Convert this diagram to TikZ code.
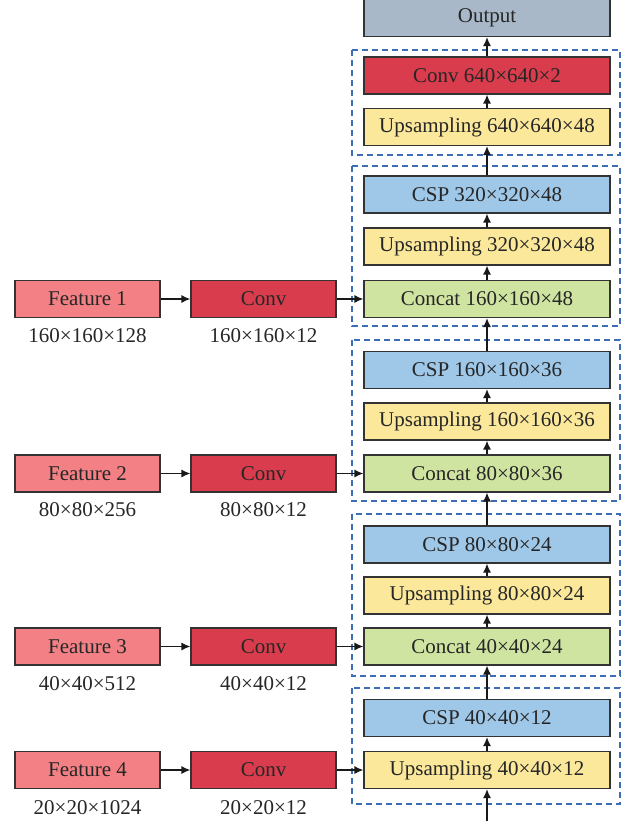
\documentclass[tikz,border=0pt]{standalone}
\usepackage{fontspec}
\setmainfont{Liberation Serif}
\usetikzlibrary{arrows.meta}
\definecolor{cout}{HTML}{A8B8C8}
\definecolor{cconv}{HTML}{D93D4D}
\definecolor{cups}{HTML}{FBE89B}
\definecolor{ccsp}{HTML}{9FC7E8}
\definecolor{ccat}{HTML}{D0E4A2}
\definecolor{cfeat}{HTML}{F28084}
\definecolor{cdash}{HTML}{3D6DB5}
\definecolor{cedge}{HTML}{333333}
\begin{document}
\begin{tikzpicture}[x=1pt,y=-1pt,
  fnt/.style={font=\fontsize{21}{24}\selectfont, text=black!85},
  blk/.style={fnt, draw=cedge, line width=1.2pt, minimum width=246pt, minimum height=37pt, inner sep=0pt},
  sblk/.style={blk, minimum width=145pt},
  lbl/.style={fnt, inner sep=0pt},
  arr/.style={-{Latex[length=9pt,width=8pt]}, line width=1.3pt, black!90},
  grp/.style={draw=cdash, line width=1.3pt, dash pattern=on 6pt off 4pt}
]
\useasboundingbox (0,0) rectangle (633,821);
% groups
\draw[grp] (352,50) rectangle (620,155);
\draw[grp] (352,166) rectangle (620,326);
\draw[grp] (352,340) rectangle (620,501);
\draw[grp] (352,514) rectangle (620,676);
\draw[grp] (352,688) rectangle (620,804);
% right column
\node[blk, fill=cout] (out) at (487,18) {Output};
\node[blk, fill=cconv] (c640) at (487,75.5) {Conv 640×640×2};
\node[blk, fill=cups] (u640) at (487,127) {Upsampling 640×640×48};
\node[blk, fill=ccsp] (s320) at (487,194.5) {CSP 320×320×48};
\node[blk, fill=cups] (u320) at (487,246.5) {Upsampling 320×320×48};
\node[blk, fill=ccat] (k160) at (487,299) {Concat 160×160×48};
\node[blk, fill=ccsp] (s160) at (487,370) {CSP 160×160×36};
\node[blk, fill=cups] (u160) at (487,421.5) {Upsampling 160×160×36};
\node[blk, fill=ccat] (k80) at (487,473.5) {Concat 80×80×36};
\node[blk, fill=ccsp] (s80) at (487,544.5) {CSP 80×80×24};
\node[blk, fill=cups] (u80) at (487,595.5) {Upsampling 80×80×24};
\node[blk, fill=ccat] (k40) at (487,646.5) {Concat 40×40×24};
\node[blk, fill=ccsp] (s40) at (487,718) {CSP 40×40×12};
\node[blk, fill=cups] (u40) at (487,770) {Upsampling 40×40×12};
\coordinate (in0) at (487,821);
% left side
\node[sblk, fill=cfeat] (f1) at (87.5,299) {Feature 1};
\node[sblk, fill=cconv] (v1) at (263.5,299) {Conv};
\node[sblk, fill=cfeat] (f2) at (87.5,473.5) {Feature 2};
\node[sblk, fill=cconv] (v2) at (263.5,473.5) {Conv};
\node[sblk, fill=cfeat] (f3) at (87.5,646.5) {Feature 3};
\node[sblk, fill=cconv] (v3) at (263.5,646.5) {Conv};
\node[sblk, fill=cfeat] (f4) at (87.5,770) {Feature 4};
\node[sblk, fill=cconv] (v4) at (263.5,770) {Conv};
\node[lbl] (lf1) at (87.5,336) {160×160×128};
\node[lbl] (lv1) at (263.5,336) {160×160×12};
\node[lbl] (lf2) at (87.5,510) {80×80×256};
\node[lbl] (lv2) at (263.5,510) {80×80×12};
\node[lbl] (lf3) at (87.5,684) {40×40×512};
\node[lbl] (lv3) at (263.5,684) {40×40×12};
\node[lbl] (lf4) at (87.5,808) {20×20×1024};
\node[lbl] (lv4) at (263.5,808) {20×20×12};
% arrows
\draw[arr] (in0) -- (u40);
\draw[arr] (u40) -- (s40);
\draw[arr] (s40) -- (k40);
\draw[arr] (k40) -- (u80);
\draw[arr] (u80) -- (s80);
\draw[arr] (s80) -- (k80);
\draw[arr] (k80) -- (u160);
\draw[arr] (u160) -- (s160);
\draw[arr] (s160) -- (k160);
\draw[arr] (k160) -- (u320);
\draw[arr] (u320) -- (s320);
\draw[arr] (s320) -- (u640);
\draw[arr] (u640) -- (c640);
\draw[arr] (c640) -- (out);
\draw[arr] (f1) -- (v1);
\draw[arr] (v1) -- (k160);
\draw[arr] (f2) -- (v2);
\draw[arr] (v2) -- (k80);
\draw[arr] (f3) -- (v3);
\draw[arr] (v3) -- (k40);
\draw[arr] (f4) -- (v4);
\draw[arr] (v4) -- (u40);
\end{tikzpicture}
\end{document}
